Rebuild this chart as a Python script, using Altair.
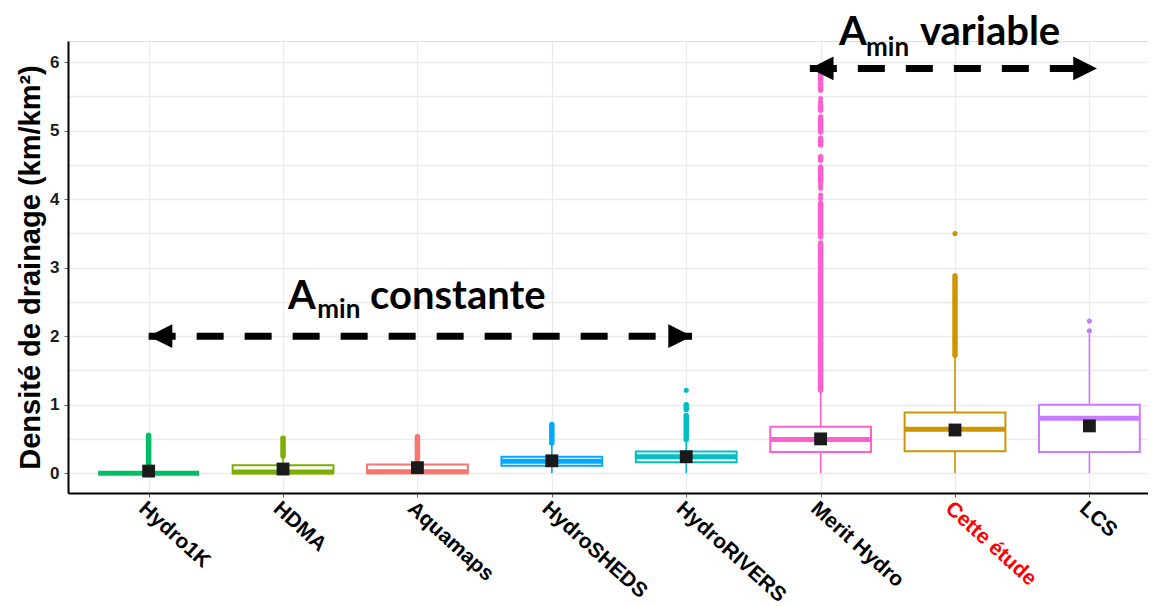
import altair as alt
import pandas as pd

# ---------------- data ----------------
categories = ["Hydro1K", "HDMA", "Aquamaps", "HydroSHEDS", "HydroRIVERS",
              "Merit Hydro", "Cette étude", "LCS"]
colors = ["#00BE67", "#7CAE00", "#F8766D", "#00A9FF", "#00BFC4",
          "#FF61CC", "#CD9600", "#C77CFF"]
q1 = [0.0, 0.0, 0.0, 0.107, 0.16, 0.31, 0.32, 0.31]
median = [0.0, 0.015, 0.02, 0.175, 0.24, 0.49, 0.64, 0.80]
q3 = [0.0, 0.117, 0.127, 0.24, 0.315, 0.676, 0.886, 1.00]
whisk_lo = [0.0, 0.0, 0.0, 0.0, 0.0, 0.0, 0.0, 0.0]
whisk_hi = [0.0, 0.24, 0.19, 0.43, 0.48, 1.19, 1.71, 2.04]
means = [0.03, 0.06, 0.08, 0.18, 0.24, 0.50, 0.63, 0.69]

# dense stacks of outliers (drawn as continuous runs of dots)
run_cat = ["Hydro1K", "HDMA", "Aquamaps", "HydroSHEDS", "HydroRIVERS", "HydroRIVERS",
           "Merit Hydro", "Merit Hydro", "Merit Hydro", "Merit Hydro", "Merit Hydro",
           "Merit Hydro", "Merit Hydro", "Merit Hydro", "Merit Hydro",
           "Cette étude"]
run_lo = [0.0, 0.25, 0.20, 0.44, 0.49, 0.93,
          1.21, 3.45, 4.25, 4.57, 4.79, 4.98, 5.30, 5.59, 5.74,
          1.72]
run_hi = [0.555, 0.51, 0.53, 0.71, 0.84, 1.00,
          3.36, 3.94, 4.47, 4.62, 4.89, 5.20, 5.37, 5.69, 5.84,
          2.88]
# isolated outliers
pt_cat = ["HydroRIVERS", "Merit Hydro", "Merit Hydro", "Merit Hydro", "Merit Hydro",
          "Merit Hydro", "Merit Hydro", "Cette étude", "LCS", "LCS"]
pt_val = [1.21, 4.01, 4.06, 4.16, 4.20, 5.42, 5.47, 3.50, 2.08, 2.22]

# annotations
arrow_x_start = [0.0, 4.92]
arrow_x_end = [4.043, 7.056]
arrow_y = [2.0, 5.91]
ann_text = ["A", "min", "constante", "A", "min", "variable"]
ann_x = [1.037, 1.255, 1.647, 5.137, 5.338, 5.739]
ann_y = [2.39, 2.27, 2.39, 6.248, 6.09, 6.248]
ann_size = [40, 26, 40, 40, 26, 40]

ylabel = "Densité de drainage (km/km²)"

# ---------------- tables ----------------
idx_of = {c: i for i, c in enumerate(categories)}
box_df = pd.DataFrame({"cat": categories, "idx": list(range(len(categories))),
                       "q1": q1, "med": median, "q3": q3,
                       "lo": whisk_lo, "hi": whisk_hi, "mean": means})
run_df = pd.DataFrame({"cat": run_cat, "idx": [idx_of[c] for c in run_cat],
                       "lo": run_lo, "hi": run_hi})
pt_df = pd.DataFrame({"cat": pt_cat, "idx": [idx_of[c] for c in pt_cat], "v": pt_val})
arrow_df = pd.DataFrame({"xs": arrow_x_start, "xe": arrow_x_end, "y": arrow_y})
ann_df = pd.DataFrame({"t": ann_text, "x": ann_x, "y": ann_y, "s": ann_size})

# ---------------- scales / axes ----------------
X_SCALE = alt.Scale(domain=[-0.6, 7.436], nice=False, zero=False)
Y_SCALE = alt.Scale(domain=[-0.29, 6.31], nice=False, zero=False)
COLOR = alt.Color("cat:N", scale=alt.Scale(domain=categories, range=colors), legend=None)

label_js = "[" + ",".join("'" + c + "'" for c in categories) + "][datum.value]"
x_axis = alt.Axis(
    values=list(range(len(categories))), labelExpr=label_js, title=None,
    labelAngle=42, labelAlign="left", labelBaseline="top",
    labelFont="Liberation Sans", labelFontWeight="bold", labelFontSize=21,
    labelColor={"condition": {"test": "datum.value == 6", "value": "#FF0000"}, "value": "#000000"},
    labelPadding=0, labelFlush=False, labelOverlap=False, labelBound=False,
    tickColor="#666666", tickSize=4, tickWidth=1,
    domainColor="#000000", domainWidth=2,
    grid=True, gridColor="#EBEBEB", gridWidth=1.3,
)
y_vals = [i * 0.5 for i in range(13)]
y_axis = alt.Axis(
    values=y_vals, labelExpr="datum.value % 1 == 0 ? format(datum.value, 'd') : ''",
    title=ylabel, titleFont="Liberation Sans", titleFontWeight="bold",
    titleFontSize=29, titleColor="#000000", titlePadding=4,
    labelFont="Liberation Sans", labelFontWeight="bold", labelFontSize=17,
    labelColor="#1A1A1A", labelPadding=5, labelFlush=False, labelOverlap=False,
    tickColor={"condition": {"test": "datum.value % 1 != 0", "value": "transparent"}, "value": "#666666"},
    tickSize=4, tickWidth=1,
    domainColor="#000000", domainWidth=2,
    grid=True, gridColor="#EBEBEB", gridWidth=1.3,
)


def X(field, **kw):
    return alt.X(field, type="quantitative", scale=X_SCALE, axis=x_axis, **kw)


def Y(field, **kw):
    return alt.Y(field, type="quantitative", scale=Y_SCALE, axis=y_axis, **kw)


base_box = alt.Chart(box_df).transform_calculate(
    left="datum.idx - 0.375", right="datum.idx + 0.375")

whisk_low = base_box.mark_rule(strokeWidth=1.6).encode(
    x=X("idx"), y=Y("lo"), y2="q1", color=COLOR)
whisk_high = base_box.mark_rule(strokeWidth=1.6).encode(
    x=X("idx"), y=Y("q3"), y2="hi", color=COLOR)
boxes = base_box.mark_rect(fill="white", strokeWidth=2).encode(
    x=X("left:Q"), x2="right:Q", y=Y("q1"), y2="q3", stroke=COLOR)
medians = base_box.mark_rule(strokeWidth=5).encode(
    x=X("left:Q"), x2="right:Q", y=Y("med"), color=COLOR)

runs = alt.Chart(run_df).mark_rule(strokeWidth=5.5, strokeCap="round").encode(
    x=X("idx"), y=Y("lo"), y2="hi", color=COLOR)
pts = alt.Chart(pt_df).mark_circle(size=26, opacity=1).encode(
    x=X("idx"), y=Y("v"), color=COLOR)

mean_sq = alt.Chart(box_df).mark_square(size=165, color="#1A1A1A", opacity=1).encode(
    x=X("idx"), y=Y("mean"))

arrow_lines = alt.Chart(arrow_df).mark_rule(
    strokeWidth=7, strokeDash=[27, 21], color="black").encode(
    x=X("xs"), x2="xe", y=Y("y"))
head_left = alt.Chart(arrow_df).mark_point(
    shape="M0,0L2,-1L2,1Z", filled=True, size=560, color="black", opacity=1).encode(
    x=X("xs"), y=Y("y"))
head_right = alt.Chart(arrow_df).mark_point(
    shape="M0,0L-2,-1L-2,1Z", filled=True, size=560, color="black", opacity=1).encode(
    x=X("xe"), y=Y("y"))

texts = alt.Chart(ann_df).mark_text(
    font="Lato", fontWeight="bold", align="left", baseline="alphabetic", color="black").encode(
    x=X("x"), y=Y("y"), text="t:N", size=alt.Size("s:Q", scale=None, legend=None))

chart = alt.layer(
    whisk_low, whisk_high, boxes, medians, runs, pts, mean_sq,
    arrow_lines, head_left, head_right, texts,
).properties(
    width=1080, height=452,
    padding={"left": 60, "top": 33, "right": 0, "bottom": 113},
    autosize=alt.AutoSizeParams(type="none"),
).configure_view(stroke="transparent").configure(background="white")

chart.save("out.html", embed_options={"renderer": "svg", "actions": False})
